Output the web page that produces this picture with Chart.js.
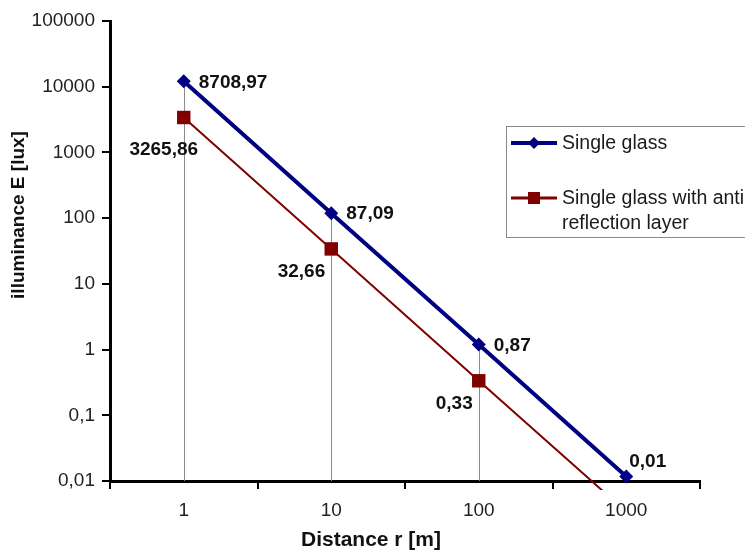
<!DOCTYPE html>
<html>
<head>
<meta charset="utf-8">
<script src="https://cdn.jsdelivr.net/npm/chart.js@4.4.1/dist/chart.umd.min.js"></script>
<style>
html,body{margin:0;padding:0;background:#fff;}
#wrap{width:745px;height:552px;position:relative;overflow:hidden;}
</style>
</head>
<body>
<div id="wrap"><canvas id="c" width="745" height="552"></canvas></div>
<script>
// ---- data ----
const distances = ['1', '10', '100', '1000'];
const singleGlass = [12100, 119, 1.19, 0.0117];
const antiReflection = [3400, 34, 0.335, 0.0034];
const singleGlassLabels = ['8708,97', '87,09', '0,87', '0,01'];
const antiReflectionLabels = ['3265,86', '32,66', '0,33', ''];
const yTickValues = [0.01, 0.1, 1, 10, 100, 1000, 10000, 100000];
const yTickLabels = ['0,01', '0,1', '1', '10', '100', '1000', '10000', '100000'];
const seriesNames = ['Single glass', 'Single glass with anti reflection layer'];
const xTitle = 'Distance r [m]';
const yTitle = 'illuminance E [lux]';

const FONT = "'Liberation Sans', Arial, sans-serif";

// label placement (style, not data)
const labelTexts = [singleGlassLabels, antiReflectionLabels];
function labelPlacement(di, i) {
  if (di === 0) {
    if (i === 3) return {dx: 3, dy: -15, align: 'left'};
    return {dx: 15, dy: 1, align: 'left'};
  }
  if (i === 0) return {dx: -20, dy: 32, align: 'center'};
  return {dx: -6, dy: 23, align: 'right'};
}

// drop lines from the first series to the x axis
const dropLines = {
  id: 'dropLines',
  beforeDatasetsDraw(chart) {
    const ctx = chart.ctx, area = chart.chartArea;
    const meta = chart.getDatasetMeta(0);
    ctx.save();
    ctx.strokeStyle = '#8c8c8c';
    ctx.lineWidth = 1;
    meta.data.forEach(pt => {
      const x = Math.round(pt.x) + 0.5;
      ctx.beginPath();
      ctx.moveTo(x, pt.y);
      ctx.lineTo(x, area.bottom);
      ctx.stroke();
    });
    ctx.restore();
  }
};

// data labels
const pointLabels = {
  id: 'pointLabels',
  afterDatasetsDraw(chart) {
    const ctx = chart.ctx;
    ctx.save();
    ctx.font = 'bold 19px ' + FONT;
    ctx.fillStyle = '#111';
    ctx.textBaseline = 'middle';
    chart.data.datasets.forEach((ds, di) => {
      const meta = chart.getDatasetMeta(di);
      const texts = labelTexts[di];
      meta.data.forEach((pt, i) => {
        const t = texts[i];
        if (!t) return;
        const o = labelPlacement(di, i);
        ctx.textAlign = o.align;
        ctx.fillText(t, pt.x + o.dx, pt.y + o.dy);
      });
    });
    ctx.restore();
  }
};

// legend box overlapping the plot
const boxLegend = {
  id: 'boxLegend',
  afterDraw(chart) {
    const ctx = chart.ctx;
    ctx.save();
    ctx.fillStyle = '#fff';
    ctx.fillRect(506, 126, 300, 111);
    ctx.strokeStyle = '#8a8a8a';
    ctx.lineWidth = 1;
    ctx.strokeRect(506.5, 126.5, 300, 111);
    const rows = [143, 198];
    ctx.font = '19.5px ' + FONT;
    ctx.textAlign = 'left';
    ctx.textBaseline = 'middle';
    chart.data.datasets.forEach((ds, i) => {
      const y = rows[i];
      ctx.strokeStyle = ds.borderColor;
      ctx.lineWidth = i === 0 ? 4 : 3;
      ctx.beginPath();
      ctx.moveTo(511, y);
      ctx.lineTo(557, y);
      ctx.stroke();
      ctx.fillStyle = ds.pointBackgroundColor;
      ctx.beginPath();
      if (ds.pointStyle === 'rectRot') {
        ctx.moveTo(534 - 6, y); ctx.lineTo(534, y - 6); ctx.lineTo(534 + 6, y); ctx.lineTo(534, y + 6);
      } else {
        ctx.rect(534 - 6, y - 6, 12, 12);
      }
      ctx.closePath();
      ctx.fill();
      // wrap label
      ctx.fillStyle = '#1a1a1a';
      const words = ds.label.split(' ');
      const maxW = 192;
      const lines = [];
      let cur = '';
      words.forEach(w => {
        const test = cur ? cur + ' ' + w : w;
        if (ctx.measureText(test).width > maxW && cur) { lines.push(cur); cur = w; }
        else cur = test;
      });
      lines.push(cur);
      lines.forEach((ln, k) => ctx.fillText(ln, 562, y + 1 + k * 25));
    });
    ctx.restore();
  }
};

// axis titles
const axisTitles = {
  id: 'axisTitles',
  afterDraw(chart) {
    const ctx = chart.ctx;
    ctx.save();
    ctx.fillStyle = '#111';
    ctx.textAlign = 'center';
    ctx.textBaseline = 'middle';
    ctx.font = 'bold 21px ' + FONT;
    ctx.fillText(xTitle, 371, 540);
    ctx.translate(19, 215);
    ctx.rotate(-Math.PI / 2);
    ctx.font = 'bold 19px ' + FONT;
    ctx.fillText(yTitle, 0, 0);
    ctx.restore();
  }
};

new Chart(document.getElementById('c'), {
  type: 'line',
  data: {
    labels: distances,
    datasets: [
      {
        label: seriesNames[0],
        data: singleGlass,
        borderColor: '#000080',
        backgroundColor: '#000080',
        pointBackgroundColor: '#000080',
        pointBorderColor: '#000080',
        borderWidth: 4,
        pointStyle: 'rectRot',
        pointRadius: 7,
        pointBorderWidth: 0,
        tension: 0,
        clip: {left: 10, top: 10, right: 10, bottom: 10}
      },
      {
        label: seriesNames[1],
        data: antiReflection,
        borderColor: '#800000',
        backgroundColor: '#800000',
        pointBackgroundColor: '#800000',
        pointBorderColor: '#800000',
        borderWidth: 2,
        pointStyle: 'rect',
        pointRadius: 9.5,
        pointBorderWidth: 0,
        tension: 0,
        clip: {left: 10, top: 10, right: 10, bottom: 9}
      }
    ]
  },
  options: {
    responsive: false,
    animation: false,
    devicePixelRatio: 1,
    layout: {padding: {left: 0, top: 21, right: 45, bottom: 0}},
    plugins: {
      legend: {display: false},
      tooltip: {enabled: false}
    },
    scales: {
      x: {
        type: 'category',
        offset: true,
        grid: {offset: true, drawOnChartArea: false, drawTicks: true, tickLength: 8, color: '#000', lineWidth: 2},
        border: {display: true, color: '#000', width: 3},
        ticks: {font: {family: FONT, size: 19}, color: '#222', padding: 10, maxRotation: 0, autoSkip: false},
        afterFit: s => { s.height = 71; }
      },
      y: {
        type: 'logarithmic',
        min: 0.01,
        max: 100000,
        afterBuildTicks: s => { s.ticks = yTickValues.map(v => ({value: v, major: true})); },
        grid: {drawOnChartArea: false, drawTicks: true, tickLength: 8, color: '#000', lineWidth: 2},
        border: {display: true, color: '#000', width: 3},
        ticks: {
          font: {family: FONT, size: 19},
          color: '#222',
          padding: 7,
          callback: (v, i) => yTickLabels[i]
        },
        afterFit: s => { s.width = 110; }
      }
    }
  },
  plugins: [dropLines, pointLabels, boxLegend, axisTitles]
});
</script>
</body>
</html>
